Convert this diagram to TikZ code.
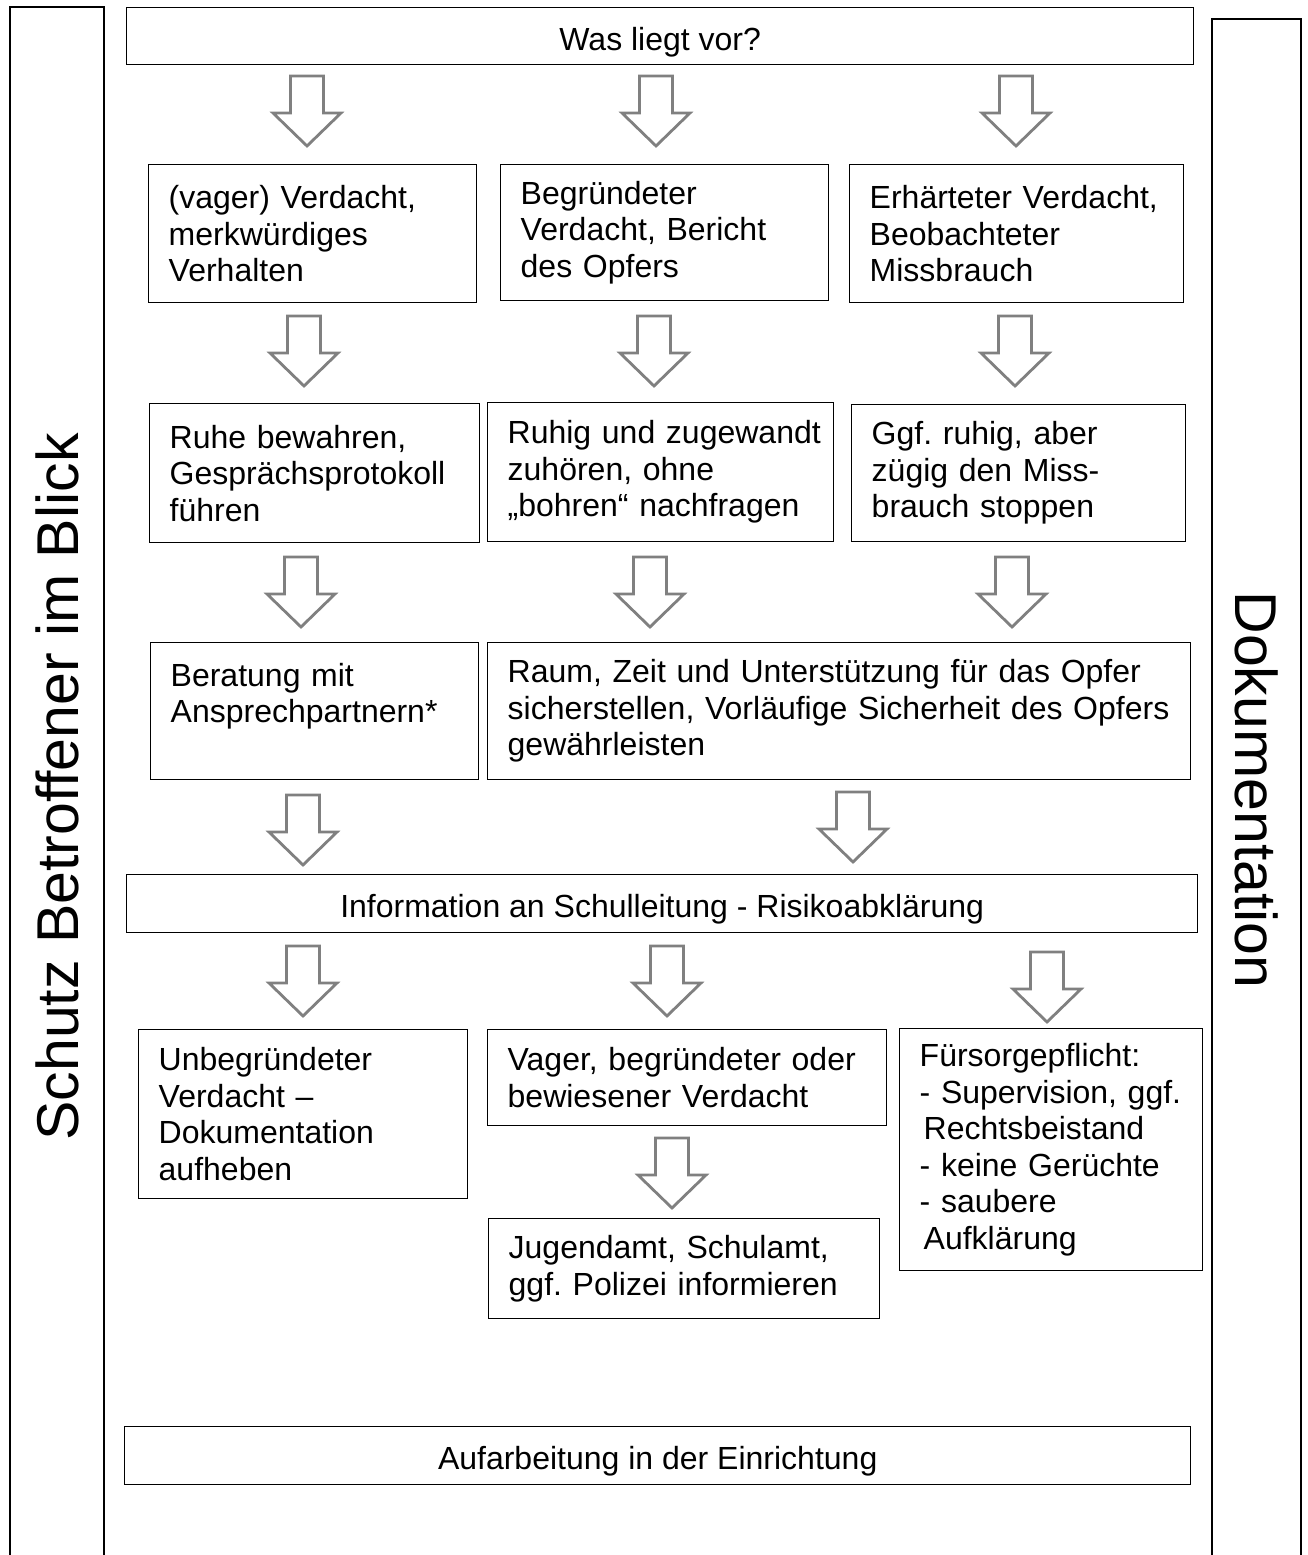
\documentclass[tikz,border=0pt]{standalone}
\usepackage{fontspec}
\setmainfont{Liberation Sans}
\frenchspacing
\definecolor{arrowgray}{RGB}{128,128,128}
\newcommand{\boxfont}{\fontsize{32}{36.5}\selectfont}
\newcommand{\sidefont}{\fontsize{59}{70}\selectfont}
\begin{document}
\begin{tikzpicture}[x=1pt,y=-1pt,
                        box/.style={draw, line width=1.4pt, anchor=north west, align=left, inner xsep=20pt, inner ysep=0pt, font=\boxfont},
                        wide/.style={draw, line width=1.4pt, anchor=north west, align=center, inner sep=0pt, text height=28pt, text depth=0pt, font=\boxfont},
                        side/.style={draw, line width=1.4pt, inner sep=0pt, font=\sidefont},
                        downarrow/.pic={\draw[arrowgray, line width=2.8pt, line join=miter] (-16.5,0) -- (16.5,0) -- (16.5,37) -- (34,37) -- (0,70) -- (-34,37) -- (-16.5,37) -- cycle;}]
                        \useasboundingbox (0,0) rectangle (1307,1555);
                        % side bars
                        \node[side, rotate=90, minimum width=1560, minimum height=94] (schutz) at (57,787) {Schutz Betroffener im Blick};
                        \node[side, rotate=-90, minimum width=1542, minimum height=89] (doku) at (1256.5,790) {Dokumentation};
                        % top
                        \node[wide, minimum width=1067, minimum height=57] (was) at (126,7) {Was liegt vor?};
                        \pic at (307,76) {downarrow};
                        \pic at (656,76) {downarrow};
                        \pic at (1016,76) {downarrow};
                        % first row
                        \node[box, text width=288, minimum height=138] (vage) at (148,164) {(vager) Verdacht,\\merkwürdiges\\Verhalten};
                        \node[box, text width=288, minimum height=136] (begr) at (500,164) {Begründeter\\Verdacht, Bericht\\des Opfers};
                        \node[box, text width=294, minimum height=138] (erh) at (849,164) {Erhärteter Verdacht,\\Beobachteter\\Missbrauch};
                        \pic at (304,316) {downarrow};
                        \pic at (654,316) {downarrow};
                        \pic at (1015,316) {downarrow};
                        % second row
                        \node[box, text width=306, minimum height=139] (ruhig) at (487,402) {\mbox{Ruhig und zugewandt}\\zuhören, ohne\\\mbox{„bohren“ nachfragen}};
                        \node[box, text width=290, minimum height=139] (ruhe) at (149,403) {Ruhe bewahren,\\Gesprächsprotokoll\\führen};
                        \node[box, text width=294, minimum height=137] (ggf) at (851,404) {Ggf. ruhig, aber\\zügig den Miss-\\brauch stoppen};
                        \pic at (301,557) {downarrow};
                        \pic at (650,557) {downarrow};
                        \pic at (1012,557) {downarrow};
                        % third row
                        \node[box, text width=288, minimum height=137] (berat) at (150,642) {Beratung mit\\Ansprechpartnern*\\\mbox{}};
                        \node[box, text width=663, minimum height=137] (raum) at (487,642) {Raum, Zeit und Unterstützung für das Opfer\\sicherstellen, Vorläufige Sicherheit des Opfers\\gewährleisten};
                        \pic at (303,795) {downarrow};
                        \pic at (853,792) {downarrow};
                        % Schulleitung
                        \node[wide, minimum width=1071, minimum height=58] (info) at (126,874) {Information an Schulleitung - Risikoabklärung};
                        \pic at (303,946) {downarrow};
                        \pic at (667,946) {downarrow};
                        \pic at (1047,952) {downarrow};
                        % results
                        \node[box, text width=289, minimum height=169] (unbegr) at (138,1029) {Unbegründeter\\Verdacht –\\Dokumentation\\aufheben};
                        \node[box, text width=359, minimum height=96] (bewiesen) at (487,1029) {Vager, begründeter oder\\bewiesener Verdacht};
                        \node[box, text width=263, minimum height=242] (fuers) at (899,1028) {Fürsorgepflicht:\\- Supervision, ggf.\\\hspace*{4pt}Rechtsbeistand\\- keine Gerüchte\\- saubere\\\hspace*{4pt}Aufklärung};
                        \pic at (672,1138) {downarrow};
                        \node[box, text width=351, minimum height=100] (jugend) at (488,1218) {Jugendamt, Schulamt,\\ggf. Polizei informieren};
                        % bottom
                        \node[wide, minimum width=1066, minimum height=58] (aufarb) at (124,1426) {Aufarbeitung in der Einrichtung};
                    \end{tikzpicture}
\end{document}
